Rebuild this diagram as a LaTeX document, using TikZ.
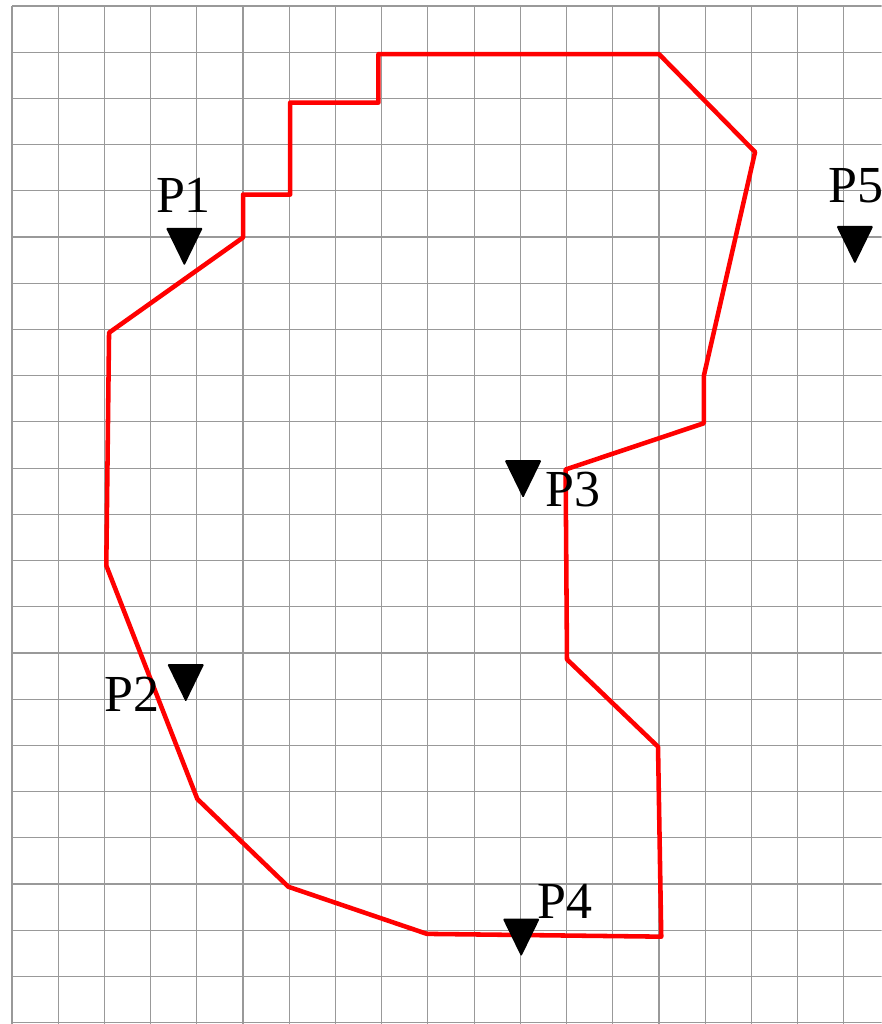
\documentclass[tikz,border=0pt]{standalone}
\usepackage{fontspec}
\setmainfont{Liberation Serif}

\begin{document}
\begin{tikzpicture}[line cap=butt,
  gridline/.style={color=black!40, line width=0.7pt},
  boundary/.style={color=red, line width=2.8pt, line join=round},
  station/.pic={\fill[rounded corners=0.8pt] (-0.4,0) -- (0.4,0) -- (0,-0.82) -- cycle;},
  ptext/.style={font=\fontsize{32}{32}\selectfont, inner sep=0pt}]

\useasboundingbox (-0.26,-0.03) rectangle (18.82,22.13);
\clip (-0.26,-0.03) rectangle (18.82,22.13);

% Raster
\draw[gridline] (0,-1) grid (19,22);

% Umriss
\draw[boundary] (7.93,20.96) -- (14.0,20.96) -- (16.08,18.84) -- (14.97,13.99)
  -- (14.97,12.97) -- (11.98,11.97) -- (12.01,7.86) -- (13.98,5.97)
  -- (14.05,1.86) -- (8.98,1.92) -- (5.98,2.94) -- (4.01,4.84)
  -- (2.04,9.89) -- (2.10,14.93) -- (5.0,16.99) -- (5.0,17.92)
  -- (6.02,17.92) -- (6.02,19.91) -- (7.93,19.91) -- cycle;

% Messpunkte
\foreach \n/\x/\y in {1/3.73/17.2, 2/3.76/7.76, 3/11.06/12.17, 4/11.02/2.25, 5/18.24/17.24}{
	\coordinate (s\n) at (\x,\y);
	\pic at (s\n) {station};
}
\node[ptext] (p1) at (3.71,17.9) {P1};
\node[ptext] (p2) at (2.60,7.11) {P2};
\node[ptext] (p3) at (12.14,11.53) {P3};
\node[ptext] (p4) at (11.97,2.63) {P4};
\node[ptext] (p5) at (18.26,18.10) {P5};
\end{tikzpicture}
\end{document}
